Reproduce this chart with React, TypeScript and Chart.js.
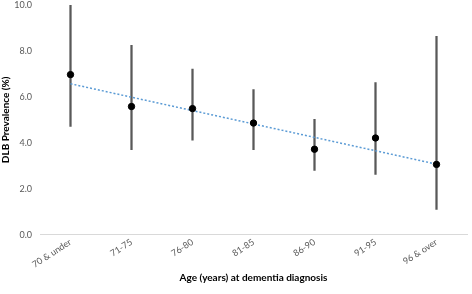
import React, { useEffect, useRef } from "react";
import { Chart, registerables } from "chart.js";

Chart.register(...registerables);

const categories = ["70 & under", "71-75", "76-80", "81-85", "86-90", "91-95", "96 & over"];
const prevalence = [6.97, 5.58, 5.49, 4.86, 3.72, 4.21, 3.06];
const lowerCI = [4.71, 3.70, 4.11, 3.70, 2.80, 2.62, 1.10];
const upperCI = [10.0, 8.24, 7.21, 6.32, 5.02, 6.62, 8.64];
const trend = [6.57, null, null, null, null, null, 3.07];
const yTicks = [0, 2, 4, 6, 8, 10];

export default function App() {
  const ref = useRef<HTMLCanvasElement>(null);
  useEffect(() => {
    if (!ref.current) return;
    const font = "Lato, 'Open Sans', sans-serif";
    const chart = new Chart(ref.current, {
      type: "bar",
      data: {
        labels: categories,
        datasets: [
          {
            type: "line",
            label: "Prevalence",
            data: prevalence,
            showLine: false,
            pointRadius: 3.2,
            pointBackgroundColor: "#000",
            pointBorderColor: "#000",
            order: 0,
          } as any,
          {
            type: "line",
            label: "Trend",
            data: trend,
            spanGaps: true,
            borderColor: "#5B9BD5",
            borderWidth: 1.5,
            borderDash: [2, 2],
            pointRadius: 0,
            order: 1,
          } as any,
          {
            type: "bar",
            label: "95% CI",
            data: lowerCI.map((l, i) => [l, upperCI[i]]),
            backgroundColor: "#595959",
            barThickness: 1.6,
            grouped: false,
            order: 2,
          } as any,
        ],
      },
      options: {
        animation: false,
        responsive: false,
        maintainAspectRatio: false,
        layout: { padding: { left: 0, right: 1, top: 0, bottom: 10 } },
        plugins: { legend: { display: false }, tooltip: { enabled: false } },
        scales: {
          x: {
            offset: true,
            grid: { display: false, drawTicks: false },
            border: { display: true, color: "#D9D9D9", width: 1 },
            afterFit: (scale: any) => {
              scale.paddingLeft = 0;
              scale.paddingRight = 0;
            },
            ticks: {
              color: "#595959",
              font: { family: font, size: 9 },
              minRotation: 33,
              maxRotation: 33,
              padding: 2,
            },
            title: {
              display: true,
              text: "Age (years) at dementia diagnosis",
              color: "#000",
              font: { family: font, size: 10, weight: "bold" },
              padding: { top: 0, bottom: 0 },
            },
          },
          y: {
            min: 0,
            max: 10,
            afterBuildTicks: (axis: any) => {
              axis.ticks = yTicks.map((v) => ({ value: v }));
            },
            afterFit: (scale: any) => {
              scale.width = 40;
              scale.paddingTop = 4;
            },
            grid: { display: false, drawTicks: false },
            border: { display: false },
            ticks: {
              color: "#595959",
              font: { family: font, size: 9 },
              padding: 8,
              callback: (v: any) => Number(v).toFixed(1),
            },
            title: {
              display: true,
              text: "DLB Prevalence (%)",
              color: "#000",
              font: { family: font, size: 10, weight: "bold" },
              padding: { top: 0, bottom: 4 },
            },
          },
        },
      },
    });
    return () => chart.destroy();
  }, []);
  return (
    <div style={{ position: "absolute", left: 0, top: 0, width: 472, height: 294, background: "#fff" }}>
      <canvas ref={ref} width={472} height={294} style={{ width: 472, height: 294 }} />
    </div>
  );
}
